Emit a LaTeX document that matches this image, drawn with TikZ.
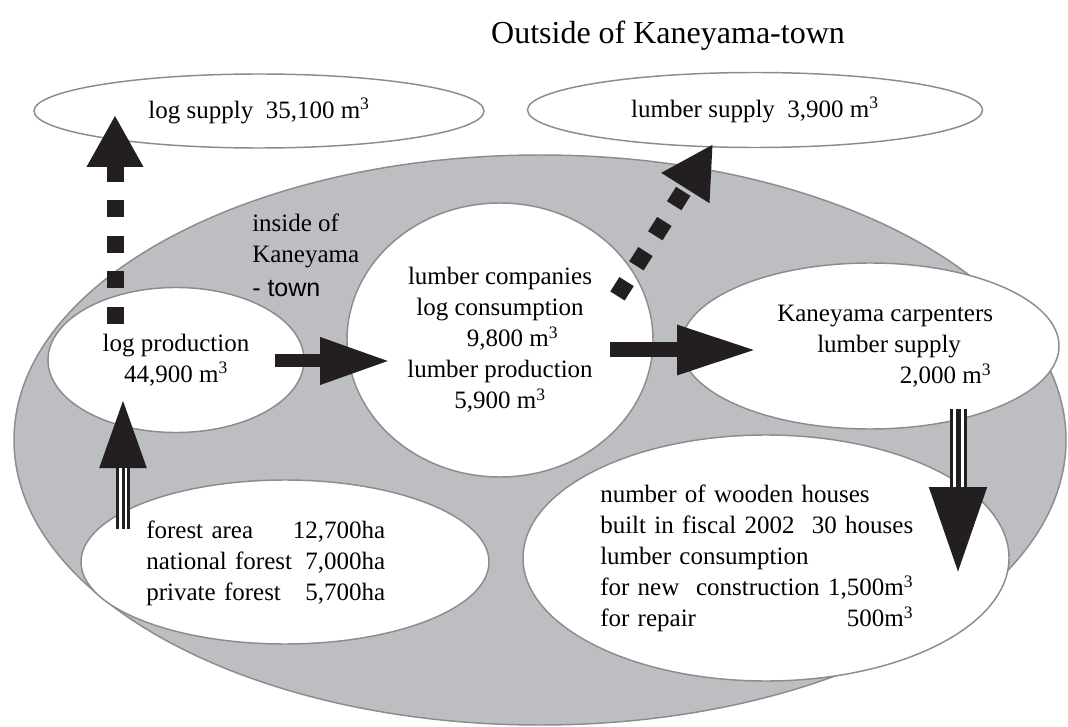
\documentclass[tikz,border=0pt]{standalone}
\usepackage{fontspec}
\setmainfont{Liberation Serif}
\newfontfamily\townfont{Liberation Sans}
\usetikzlibrary{shapes.geometric,arrows.meta,calc}
\definecolor{townfill}{RGB}{189,190,193}
\definecolor{rimgray}{RGB}{140,140,140}
\definecolor{ink}{RGB}{35,31,32}

\begin{document}
\begin{tikzpicture}[x=0.75pt,y=-0.75pt]
\tikzset{
    zone/.style={ellipse, draw=rimgray, line width=1.1pt, fill=white, inner sep=0pt},
    txt/.style={font=\fontsize{18.75pt}{23.25pt}\selectfont, inner sep=0pt},
    flow/.style={draw=ink, line cap=butt},
    dotflow/.style={flow, line width=12.75pt, dash pattern=on 12.75pt off 13.9pt,
        -{Triangle[length=39pt,width=39.75pt]}}}
\useasboundingbox (0,0) rectangle (1068,727);

% the town and the places in it
\node[zone, fill=townfill, minimum width=789pt, minimum height=427.5pt] (town) at (540,440) {};
\node[zone, txt, minimum width=337.5pt, minimum height=55.5pt] (logsupply) at (259,111) {log supply\ \ 35,100 m\textsuperscript{3}};
\node[zone, txt, minimum width=341.25pt, minimum height=56.25pt] (lumbersupply) at (755,110) {lumber supply\ \ 3,900 m\textsuperscript{3}};
\node[zone, txt, align=center, minimum width=192pt, minimum height=108.75pt] (logprod) at (176,360) {log production\\44,900 m\textsuperscript{3}};
\node[zone, txt, align=center, minimum width=229.5pt, minimum height=205.5pt] (lumberco) at (500,340)
    {lumber companies\\log consumption\\\quad 9,800 m\textsuperscript{3}\\lumber production\\5,900 m\textsuperscript{3}};
\node[zone, minimum width=283.5pt, minimum height=124.5pt] (carpenters) at (870,346) {};
\node[zone, minimum width=306pt, minimum height=123pt] (forest) at (285,562) {};
\node[zone, minimum width=364.5pt, minimum height=184.5pt] (houses) at (766,558) {};

\node[txt, font=\fontsize{24pt}{28pt}\selectfont] (title) at (668,36) {Outside of Kaneyama-town};
\node[txt, anchor=north west, align=left] (inside) at (252,214) {inside of\\Kaneyama\\[2pt]{\townfont - town}};
\node[txt, anchor=north west, align=left] (carptext) at (777,305)
    {Kaneyama carpenters\\\hspace*{30pt}lumber supply\\\hspace*{92pt}2,000 m\textsuperscript{3}};
\node[txt, anchor=north west, align=left, text width=179.25pt] (foresttext) at (146,521)
    {forest area\hfill 12,700ha\\national forest\hfill 7,000ha\\private forest\hfill 5,700ha};
\node[txt, anchor=north west, align=left, text width=234.75pt] (housetext) at (600,485)
    {number of wooden houses\\built in fiscal 2002\hfill 30 houses\\lumber consumption\\
     for new\ \ construction\hfill 1,500m\textsuperscript{3}\\for repair\hfill 500m\textsuperscript{3}};

% flows
\coordinate (logout) at (115,324);
\coordinate (logout-tip) at (115,115);
\coordinate (lumout) at (617.5,296);
\coordinate (lumout-tip) at (713,144);
\coordinate (sawin) at (275,361);
\coordinate (sawin-tip) at (390,361);
\coordinate (sell) at (610,350);
\coordinate (sell-tip) at (757,350);
\coordinate (grow) at (123,529);
\coordinate (grow-tip) at (123,398);
\coordinate (build) at (958,409);
\coordinate (build-tip) at (958,575);

\draw[dotflow] (logout) -- (logout-tip);
\draw[dotflow] (lumout) -- (lumout-tip);

\draw[flow, line width=9.75pt, -{Triangle[length=52.5pt,width=33pt]}] (sawin) -- (sawin-tip);
\draw[flow, line width=11.25pt, -{Triangle[length=60pt,width=34.5pt]}] (sell) -- (sell-tip);

\draw[flow, line width=10.5pt, -{Triangle[length=52.5pt,width=32.25pt]}] (grow) -- (grow-tip);
\draw[white, line width=6pt] (grow) -- ($(grow-tip)+(0,70)$);
\draw[ink, line width=2.25pt] (grow) -- ($(grow-tip)+(0,70)$);

\draw[flow, line width=12.75pt, -{Triangle[length=66pt,width=39.75pt]}] (build) -- (build-tip);
\draw[white, line width=8.25pt] (build) -- ($(build-tip)-(0,88)$);
\draw[ink, line width=3.75pt] (build) -- ($(build-tip)-(0,88)$);

\end{tikzpicture}
\end{document}
